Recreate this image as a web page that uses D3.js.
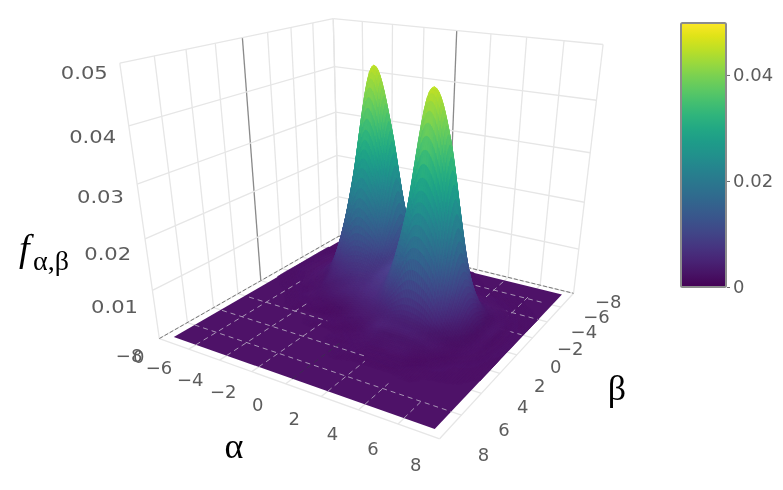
<!DOCTYPE html>
<html>
<head>
<meta charset="utf-8">
<script src="https://cdn.jsdelivr.net/npm/d3@7"></script>
<style>
html,body{margin:0;padding:0;background:#fff;overflow:hidden}
svg{display:block;filter:blur(0.35px)}
</style>
</head>
<body>
<div class="canvas"></div>
<script>
/* Data */
var alphaTicks = [-8,-6,-4,-2,0,2,4,6,8];
var betaTicks = [-8,-6,-4,-2,0,2,4,6,8];
var zTicks = [0,0.01,0.02,0.03,0.04,0.05];
var colorTicks = [0,0.02,0.04];
var colorMax = 0.0498;

var alphaValues = [-7.5,-6.5,-5.5,-4.5,-3.5,-2.5,-1.5,-0.5,0.5,1.5,2.5,3.5,4.5,5.5,6.5,7.5];
var betaValues = [-7.5,-6.5,-5.5,-4.5,-3.5,-2.5,-1.5,-0.5,0.5,1.5,2.5,3.5,4.5,5.5,6.5,7.5];
// surface height in units of 0.0001, one row per beta, one column per alpha
var zRows = [
    [0,0, 1, 3,  4,  5,  5,  3,  2,  1,  0,  0,  0, 0,0,0],
    [0,1, 3, 7, 14, 20, 17, 10,  5,  2,  1,  0,  0, 0,0,0],
    [1,2, 7,21, 57, 93, 75, 33, 12,  5,  3,  2,  1, 1,0,0],
    [1,4,12,49,168,295,231, 86, 24, 11,  8,  6,  4, 2,1,0],
    [1,4,15,69,251,448,350,127, 35, 23, 27, 23, 13, 6,2,1],
    [1,4,12,49,168,296,233,115, 85, 95,116, 99, 43,14,4,1],
    [1,2, 7,21, 72,119,113, 83,100,178,334,283,110,26,7,2],
    [0,1, 3, 7, 30, 51, 61, 63, 94,230,443,374,142,32,8,2],
    [0,0, 1, 3,  9, 21, 33, 43, 65,146,256,218, 87,22,6,2],
    [0,0, 0, 1,  1,  2,  8, 19, 31, 52, 72, 63, 29,11,4,1],
    [0,0, 0, 0,  0,  1,  1,  3, 10, 25, 26, 24, 15, 4,2,1],
    [0,0, 0, 0,  0,  0,  0,  1,  2,  8,  9,  9,  3, 2,1,0],
    [0,0, 0, 0,  0,  0,  0,  0,  1,  1,  1,  1,  1, 0,0,0],
    [0,0, 0, 0,  0,  0,  0,  0,  0,  0,  0,  0,  0, 0,0,0],
    [0,0, 0, 0,  0,  0,  0,  0,  0,  0,  0,  0,  0, 0,0,0],
    [0,0, 0, 0,  0,  0,  0,  0,  0,  0,  0,  0,  0, 0,0,0]
];

// floor grid stretches that show through the flat surface: tick, from, to
var floorAlphaLines = [[-6,7.5,-1.5],[-4,7.5,0.8],[-2,7.5,2.4],[2,7.5,4.4],[4,7.5,5.5],[6,7.5,5.9],[4,-7.3,-4.6],[6,-6.2,-2.9]];
var floorBetaLines = [[6,-7.5,7.5],[4,-7.4,1.8],[2,-7.2,-1.9],[-6,2.3,7],[-4,4.4,7.5],[-2,6.2,7.4]];
var floorZeroLines = [[0,7.5,3.4]];

/* where known box points land on the page: alpha, beta, z, x, y */
var cameraAnchors = [
    [-8, 8,0,159,337],[8, 8,0,440,440],[8,-8,0,573,293],[-8,-8,0,340,238],
    [-8, 8,0.05,120,64],[-8,-8,0.05,333,18],[8,-8,0.05,604,46],
    [-8, 8,0.03,137,184],[-8,-8,0.03,335,112],[8,-8,0.03,590,152],
    [-8, 8,0.02,145,239],[-8,-8,0.02,337,155],[8,-8,0.02,584,201]
];

var width = 783, height = 490;
var svg = d3.select('.canvas').append('svg').attr('width',width).attr('height',height);

var sx = d3.scaleLinear().domain([-8,8]).range([0,1]),
    sy = d3.scaleLinear().domain([8,-8]).range([0,1]),
    sz = d3.scaleLinear().domain([0,0.05]).range([0,1]),
    color = d3.scaleSequential(d3.interpolateViridis).domain([0,colorMax]);

var P = fitCamera();

function fitCamera(){
    var rows = [], rhs = [];
    cameraAnchors.forEach(function(c){
        var u = sx(c[0]), v = sy(c[1]), t = sz(c[2]);
        rows.push([u,v,t,1,0,0,0,0,-c[3]*u,-c[3]*v,-c[3]*t]); rhs.push(c[3]);
        rows.push([0,0,0,0,u,v,t,1,-c[4]*u,-c[4]*v,-c[4]*t]); rhs.push(c[4]);
    });
    var n = 11, A = [];
    for(var i=0;i<n;i++){
        A.push([]);
        for(var j=0;j<n;j++) A[i].push(d3.sum(rows,function(r){return r[i]*r[j]}));
        A[i].push(d3.sum(rows,function(r,k){return r[i]*rhs[k]}));
    }
    for(i=0;i<n;i++){
        var best = i;
        for(j=i+1;j<n;j++) if(Math.abs(A[j][i])>Math.abs(A[best][i])) best = j;
        var tmp = A[i]; A[i] = A[best]; A[best] = tmp;
        for(j=0;j<n;j++){
            if(j==i) continue;
            var m = A[j][i]/A[i][i];
            for(var k=i;k<=n;k++) A[j][k] -= m*A[i][k];
        }
    }
    return A.map(function(r,i){return r[n]/r[i]});
}

function project(a,b,z){
    var u = sx(a), v = sy(b), t = sz(z);
    var w = P[8]*u+P[9]*v+P[10]*t+1;
    return [(P[0]*u+P[1]*v+P[2]*t+P[3])/w,(P[4]*u+P[5]*v+P[6]*t+P[7])/w,w];
}

/* smooth lookup between the typed grid values, for drawing only */
function cr(p0,p1,p2,p3,t){
    return 0.5*(2*p1+(p2-p0)*t+(2*p0-5*p1+4*p2-p3)*t*t+(3*p1-p0-3*p2+p3)*t*t*t);
}
function cell(i,j){
    i = Math.max(0,Math.min(15,i)); j = Math.max(0,Math.min(15,j));
    return zRows[j][i];
}
function zAt(fi,fj){
    var i = Math.min(14,Math.floor(fi)), j = Math.min(14,Math.floor(fj)),
        s = fi-i, t = fj-j, col = [];
    for(var n=-1;n<=2;n++){
        col.push(cr(cell(i-1,j+n),cell(i,j+n),cell(i+1,j+n),cell(i+2,j+n),s));
    }
    return Math.max(0,cr(col[0],col[1],col[2],col[3],t))*1e-4;
}

var sub = 10, nv = 15*sub+1, vz = [];
d3.range(nv).forEach(function(j){
    vz.push(d3.range(nv).map(function(i){return zAt(i/sub,j/sub)}));
});
var stepA = d3.scaleLinear().domain([0,15]).range([alphaValues[0],alphaValues[15]]),
    stepB = d3.scaleLinear().domain([0,15]).range([betaValues[0],betaValues[15]]);

function shade(z,ga,gb){
    var hs = 16/0.05,
        nx = -ga*hs, ny = -gb*hs, nz = 1,
        len = Math.sqrt(nx*nx+ny*ny+nz*nz),
        lam = Math.max(0,(nx*-0.3+ny*-0.3+nz*0.905)/len),
        c = d3.rgb(color(z)),
        s = Math.pow(lam/0.905,2);
    return d3.rgb(c.r+10*s,c.g+17*s,c.b+20*s).formatHex();
}

var lowQuads = [], highQuads = [];
for(var j=0;j<nv-1;j++){
    for(var i=0;i<nv-1;i++){
        var z0 = vz[j][i], z1 = vz[j][i+1], z2 = vz[j+1][i+1], z3 = vz[j+1][i];
        var zHigh = Math.max(z0,z1,z2,z3);
        if(zHigh<5e-5) continue;
        var a0 = stepA(i/sub), a1 = stepA((i+1)/sub), b0 = stepB(j/sub), b1 = stepB((j+1)/sub);
        var pts = [project(a0,b0,z0),project(a1,b0,z1),project(a1,b1,z2),project(a0,b1,z3)];
        (zHigh<4e-4?lowQuads:highQuads).push({
            pts:pts,
            depth:d3.mean(pts,function(p){return p[2]}),
            fill:shade((z0+z1+z2+z3)/4,((z1+z2)-(z0+z3))/2/(a1-a0),((z2+z3)-(z0+z1))/2/(b1-b0))
        });
    }
}
function byDepth(a,b){return b.depth-a.depth}
lowQuads.sort(byDepth);
highQuads.sort(byDepth);

function drawQuads(data){
    svg.append('g').selectAll('polygon')
        .data(data)
        .enter()
        .append('polygon')
        .attr('points',function(d){return d.pts.map(function(p){return p[0].toFixed(2)+','+p[1].toFixed(2)}).join(' ')})
        .attr('fill',function(d){return d.fill})
        .attr('stroke',function(d){return d.fill})
        .attr('stroke-width',0.6);
}

var line = d3.line();
function seg(p,q){return line([project(p[0],p[1],p[2]),project(q[0],q[1],q[2])].map(function(d){return [d[0],d[1]]}))}

/* walls */
var gridColor = '#e6e6e6', zeroColor = '#8a8a8a';
var walls = svg.append('g').attr('fill','none').attr('stroke-width',1.3);
function wallLine(p,q,c){ walls.append('path').attr('d',seg(p,q)).attr('stroke',c||gridColor); }

betaTicks.forEach(function(b){ wallLine([-8,b,0],[-8,b,0.05],b==0?zeroColor:gridColor); });
alphaTicks.forEach(function(a){ wallLine([a,-8,0],[a,-8,0.05],a==0?zeroColor:gridColor); });
zTicks.slice(1).forEach(function(z){
    wallLine([-8,8,z],[-8,-8,z]);
    wallLine([-8,-8,z],[8,-8,z]);
});

/* floor lines that stick out past the surface */
alphaTicks.forEach(function(a){ wallLine([a,-8,0],[a,8,0]); });
betaTicks.forEach(function(b){ wallLine([-8,b,0],[8,b,0]); });

/* flat part of the surface */
var corners = [[-7.5,-7.5],[7.5,-7.5],[7.5,7.5],[-7.5,7.5]].map(function(c){
    var p = project(c[0],c[1],0); return p[0]+','+p[1];
}).join(' ');
svg.append('polygon').attr('points',corners).attr('fill',shade(0,0,0));

/* back edges of the floor, broken up where they meet the surface */
var backEdges = svg.append('g').attr('fill','none').attr('stroke','#777').attr('stroke-width',1).attr('stroke-dasharray','4 2');
backEdges.append('path').attr('d',seg([-8,8,0],[-8,-8,0]));
backEdges.append('path').attr('d',seg([-8,-8,0],[8,-8,0]));

drawQuads(lowQuads);

var floorGrid = svg.append('g').attr('fill','none').attr('stroke-width',1).attr('stroke-dasharray','5 4');
floorAlphaLines.forEach(function(d){
    floorGrid.append('path').attr('d',seg([d[0],d[1],0],[d[0],d[2],0])).attr('stroke','#a995b6');
});
floorBetaLines.forEach(function(d){
    floorGrid.append('path').attr('d',seg([d[1],d[0],0],[d[2],d[0],0])).attr('stroke','#a995b6');
});
floorZeroLines.forEach(function(d){
    floorGrid.append('path').attr('d',seg([d[0],d[1],0],[d[0],d[2],0])).attr('stroke','#3d2a52');
});

/* raised surface, far quads first */
drawQuads(highQuads);

/* tick labels */
var tickFont = '"DejaVu Sans", sans-serif', tickColor = '#5c5c5c', fmt = d3.format('d');
var labels = svg.append('g').attr('font-family',tickFont).attr('font-size',18).attr('fill',tickColor)
    .attr('text-anchor','middle').attr('dominant-baseline','central');

labels.selectAll('.alpha').data(alphaTicks).enter().append('text')
    .attr('x',function(d){return project(d,10,0)[0]})
    .attr('y',function(d){return project(d,10,0)[1]})
    .text(function(d){return fmt(d)});
labels.selectAll('.beta').data(betaTicks).enter().append('text')
    .attr('x',function(d){return project(10,d,0)[0]})
    .attr('y',function(d){return project(10,d,0)[1]})
    .text(function(d){return fmt(d)});

var zDx = d3.scaleLinear().domain([0,0.05]).range([-15,-12]),
    zDy = d3.scaleLinear().domain([0,0.05]).range([18,9]);
labels.selectAll('.z').data(zTicks).enter().append('text')
    .attr('text-anchor','end')
    .attr('x',function(d){return project(-8,8,d)[0]+zDx(d)})
    .attr('y',function(d){return project(-8,8,d)[1]+zDy(d)})
    .attr('textLength',function(d){return d==0?null:47})
    .attr('lengthAdjust','spacingAndGlyphs')
    .text(function(d){return d==0?'0':d3.format('.2f')(d)});

/* colour bar */
var barX = 681, barW = 45, barTop = 23, barBottom = 287;
var barScale = d3.scaleLinear().domain([0,colorMax]).range([barBottom,barTop]);
var grad = svg.append('defs').append('linearGradient').attr('id','viridisBar')
    .attr('x1',0).attr('x2',0).attr('y1',1).attr('y2',0);
d3.range(0,1.01,0.05).forEach(function(t){
    grad.append('stop').attr('offset',t).attr('stop-color',d3.interpolateViridis(t));
});
svg.append('rect').attr('x',barX).attr('y',barTop).attr('width',barW).attr('height',barBottom-barTop)
    .attr('fill','url(#viridisBar)').attr('stroke','#8c8c8c').attr('stroke-width',2).attr('rx',1.5);

var barAxis = svg.append('g').attr('transform','translate('+(barX+barW+1)+',0)')
    .call(d3.axisRight(barScale).tickValues(colorTicks).tickSize(3).tickPadding(3)
        .tickFormat(function(d){return d==0?'0':d3.format('.2f')(d)}));
barAxis.select('.domain').remove();
barAxis.selectAll('line').attr('stroke','#6a6a6a');
barAxis.selectAll('text').attr('font-family',tickFont).attr('font-size',18).attr('fill',tickColor);

/* axis titles */
var titleFont = '"Liberation Serif", serif';
var titles = svg.append('g').attr('font-family',titleFont).attr('fill','#000');
titles.append('text').attr('x',234).attr('y',458).attr('font-size',36).attr('text-anchor','middle').text('α');
titles.append('text').attr('x',617).attr('y',400).attr('font-size',36).attr('text-anchor','middle').text('β');
titles.append('text').attr('x',19).attr('y',261).attr('font-size',38).attr('font-style','italic').text('f');
titles.append('text').attr('x',33).attr('y',270).attr('font-size',28).text('α,β');
</script>
</body>
</html>
